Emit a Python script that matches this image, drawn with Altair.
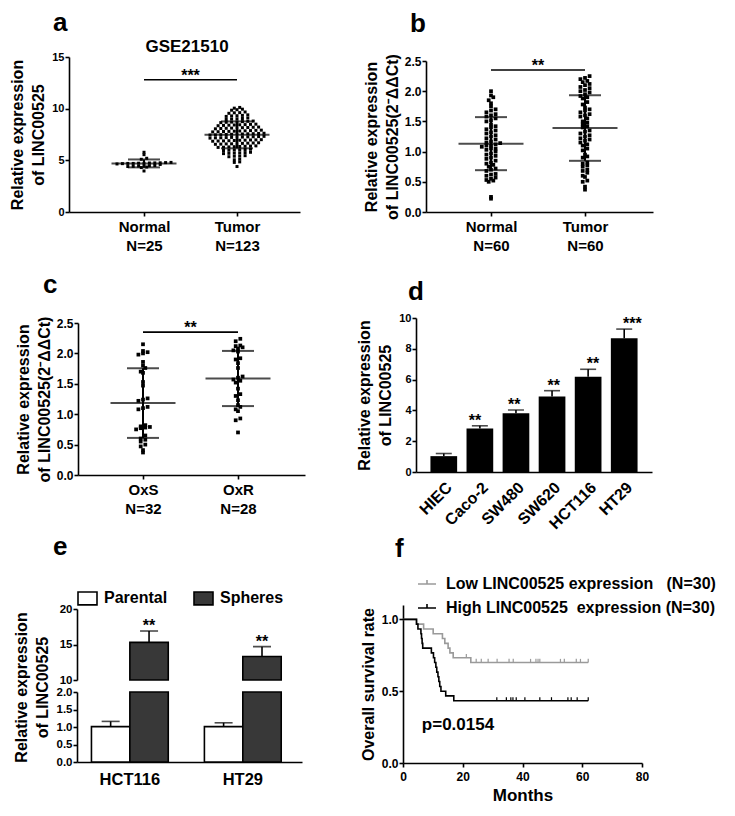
import altair as alt
import pandas as pd

FONT = "Liberation Sans"
M = 8            # page margin
W, H = 719, 800  # drawing area

# ---------------- data ----------------
a_normal = [3.97, 4.30, 4.35, 4.40, 4.42, 4.45, 4.45, 4.48, 4.50, 4.60, 4.65, 4.68, 4.70,
            4.70, 4.72, 4.72, 4.74, 4.75, 4.76, 4.78, 4.80, 5.10, 5.20, 5.55, 5.78]
a_tumor = [10.05, 10.12, 9.85, 9.90, 9.95, 9.55, 9.60, 9.62, 9.68,
           9.25, 9.30, 9.32, 9.35, 9.40, 8.95, 9.00, 9.02, 9.05, 9.10,
           8.65, 8.68, 8.70, 8.72, 8.75, 8.78, 8.80,
           8.35, 8.38, 8.40, 8.42, 8.44, 8.46, 8.48, 8.50,
           8.05, 8.08, 8.10, 8.12, 8.14, 8.16, 8.18, 8.20, 8.22,
           7.75, 7.77, 7.79, 7.80, 7.82, 7.84, 7.86, 7.88, 7.90, 7.92,
           7.45, 7.47, 7.48, 7.50, 7.52, 7.54, 7.55, 7.57, 7.58, 7.60, 7.62,
           7.15, 7.17, 7.18, 7.20, 7.22, 7.23, 7.25, 7.27, 7.28, 7.30, 7.32,
           6.85, 6.87, 6.88, 6.90, 6.92, 6.94, 6.95, 6.97, 6.98, 7.00,
           6.55, 6.57, 6.59, 6.60, 6.62, 6.64, 6.66, 6.68, 6.70,
           6.25, 6.27, 6.30, 6.32, 6.34, 6.36, 6.38, 6.40,
           5.95, 5.98, 6.00, 6.02, 6.05, 6.08,
           5.65, 5.68, 5.70, 5.72, 5.75, 5.78,
           5.35, 5.40, 5.42, 5.45, 5.05, 5.12, 4.80, 4.85, 4.40]
b_normal = [0.22, 0.25, 0.50, 0.52, 0.53, 0.55, 0.57, 0.60, 0.62, 0.63,
            0.68, 0.70, 0.72, 0.75, 0.78, 0.80, 0.82, 0.85, 0.88, 0.90,
            0.93, 0.95, 0.97, 1.00, 1.03, 1.05, 1.05, 1.08, 1.10, 1.10,
            1.12, 1.14, 1.15, 1.17, 1.20, 1.22, 1.25, 1.27, 1.30, 1.32,
            1.35, 1.37, 1.40, 1.42, 1.45, 1.50, 1.52, 1.55, 1.58, 1.60,
            1.62, 1.65, 1.68, 1.70, 1.75, 1.80, 1.85, 1.90, 1.93, 2.00]
b_tumor = [0.37, 0.42, 0.50, 0.52, 0.58, 0.60, 0.65, 0.68, 0.70, 0.75,
           0.77, 0.80, 0.82, 0.90, 0.92, 0.95, 1.02, 1.05, 1.10, 1.12,
           1.15, 1.18, 1.20, 1.22, 1.25, 1.27, 1.30, 1.33, 1.35, 1.40,
           1.42, 1.45, 1.48, 1.50, 1.55, 1.58, 1.60, 1.62, 1.65, 1.68,
           1.70, 1.73, 1.78, 1.82, 1.88, 1.90, 1.92, 1.95, 1.98, 2.00,
           2.02, 2.05, 2.07, 2.10, 2.12, 2.15, 2.17, 2.20, 2.22, 2.25]
c_oxs = [0.37, 0.41, 0.47, 0.50, 0.55, 0.58, 0.60, 0.65, 0.75, 0.77, 0.78, 0.79,
         0.80, 0.82, 1.08, 1.10, 1.12, 1.22, 1.24, 1.26, 1.47, 1.53, 1.68, 1.70,
         1.76, 1.80, 1.86, 1.98, 2.00, 2.02, 2.04, 2.15]
c_oxr = [0.70, 0.90, 0.93, 1.05, 1.08, 1.12, 1.15, 1.23, 1.30, 1.33, 1.42, 1.52,
         1.55, 1.57, 1.60, 1.62, 1.76, 1.84, 1.90, 1.92, 2.03, 2.05, 2.08, 2.10,
         2.12, 2.13, 2.20, 2.24]

d_lines = ["HIEC", "Caco-2", "SW480", "SW620", "HCT116", "HT29"]
d_mean = [1.03, 2.82, 3.81, 4.91, 6.19, 8.68]
d_err = [0.17, 0.18, 0.22, 0.37, 0.48, 0.60]
d_sig = ["", "**", "**", "**", "**", "***"]

e_lines = ["HCT116", "HT29"]
e_groups = ["Parental", "Spheres"]
e_parental = [1.01, 1.01]
e_parental_err = [0.15, 0.11]
e_spheres = [15.3, 13.3]
e_spheres_err = [1.6, 1.4]
e_sig = ["**", "**"]

f_groups = ["Low LINC00525 expression\u00a0\u00a0\u00a0(N=30)",
            "High LINC00525\u00a0\u00a0expression\u00a0(N=30)"]
f_low_t = [0, 4.6, 6.9, 10.1, 13.2, 14.0, 15.1, 15.7, 16.8, 22.7, 62]
f_low_s = [1.0, 0.967, 0.933, 0.9, 0.867, 0.833, 0.8, 0.767, 0.733, 0.7, 0.7]
f_low_cens = [21.2, 24.5, 26.2, 28.5, 31.5, 35.5, 36.9, 42.7, 44.5, 45.2, 45.8,
              52.7, 54.0, 58.0, 59.4, 62.0]
f_high_t = [0, 4.5, 5.0, 6.0, 6.2, 6.4, 6.6, 9.5, 10.2, 10.6, 11.0, 11.3, 11.7,
            12.0, 12.3, 12.7, 14.3, 17.0, 62]
f_high_s = [1.0, 0.967, 0.933, 0.9, 0.867, 0.833, 0.8, 0.767, 0.733, 0.7, 0.667,
            0.633, 0.6, 0.567, 0.533, 0.5, 0.467, 0.433, 0.433]
f_high_cens = [31.4, 34.6, 36.1, 36.8, 37.9, 40.8, 45.8, 49.7, 55.2, 56.3, 58.3, 62.0]
f_pvalue = "p=0.0154"


# ---------------- helpers ----------------
def lin(dom, p0, p1):
    return alt.Scale(domain=dom, range=[p0 - M, p1 - M], nice=False, zero=False)


def left_axis(xabs, **kw):
    return alt.Axis(orient="left", offset=-(xabs - M), **kw)


def bottom_axis(yabs, **kw):
    return alt.Axis(orient="bottom", offset=(yabs - M) - H, **kw)


def swarm(vals, g, yppu, xppu, bin_px, gap_px):
    binsize = bin_px / yppu
    bins = {}
    for v in sorted(vals):
        bins.setdefault(round(v / binsize), []).append(v)
    out = []
    for k in sorted(bins):
        vs = bins[k]
        n = len(vs)
        for i, v in enumerate(vs):
            out.append({"g": g, "v": v, "x": g + (i - (n - 1) / 2) * gap_px / xppu})
    return out


def txt(**kw):
    base = dict(font=FONT, fontWeight="bold", color="black")
    base.update(kw)
    return base


def scatter_panel(v1, v2, names, L, R, c1, c2, ybot, ytop, ymax, yvals, yfmt,
                  ylab, ytitle, tpad, sig_y, sig_txt, dot, bin_px, gap_px):
    unit = c2 - c1
    d0 = 1 - (c1 - L) / unit
    d1 = 2 + (R - c2) / unit
    X = alt.Scale(domain=[d0, d1], range=[L - M, R - M], nice=False, zero=False)
    Y = lin([0, ymax], ybot, ytop)
    yppu = (ybot - ytop) / ymax
    df = pd.DataFrame(swarm(v1, 1, yppu, unit, bin_px, gap_px) +
                      swarm(v2, 2, yppu, unit, bin_px, gap_px))
    lab = (f"datum.value == 1 ? ['{names[0]}', 'N={len(v1)}'] : "
           f"['{names[1]}', 'N={len(v2)}']")
    xaxis = bottom_axis(ybot, values=[1, 2], labelExpr=lab, labelFontSize=15,
                        labelLineHeight=19.5, labelPadding=3, title=None)
    yaxis = left_axis(L, values=yvals, format=yfmt, labelFontSize=ylab,
                      labelPadding=1, title=ytitle, titleFontSize=16,
                      titleLineHeight=21, titlePadding=tpad)
    pts = alt.Chart(df).mark_square(size=dot, color="black", opacity=1).encode(
        x=alt.X("x:Q", scale=X, axis=xaxis),
        y=alt.Y("v:Q", scale=Y, axis=yaxis))
    base = alt.Chart(df).transform_aggregate(
        m="mean(v)", s="stdev(v)", groupby=["g"]
    ).transform_calculate(lo="datum.m - datum.s", hi="datum.m + datum.s")
    gx = alt.X("g:Q", scale=X, axis=None)
    mean = base.mark_tick(orient="horizontal", size=65, thickness=2, color="black").encode(
        x=gx, y=alt.Y("m:Q", scale=Y, axis=None))
    lo = base.mark_tick(orient="horizontal", size=32, thickness=2, color="black").encode(
        x=gx, y=alt.Y("lo:Q", scale=Y, axis=None))
    hi = base.mark_tick(orient="horizontal", size=32, thickness=2, color="black").encode(
        x=gx, y=alt.Y("hi:Q", scale=Y, axis=None))
    vr = base.mark_rule(strokeWidth=2, color="black").encode(
        x=gx, y=alt.Y("lo:Q", scale=Y, axis=None), y2="hi:Q")
    sdf = pd.DataFrame({"x1": [1], "x2": [2], "xm": [1.5], "y": [sig_y], "t": [sig_txt]})
    sline = alt.Chart(sdf).mark_rule(strokeWidth=1.6, color="black").encode(
        x=alt.X("x1:Q", scale=X, axis=None), x2="x2:Q",
        y=alt.Y("y:Q", scale=Y, axis=None))
    stxt = alt.Chart(sdf).mark_text(**txt(fontSize=16, baseline="alphabetic", dy=1)).encode(
        x=alt.X("xm:Q", scale=X, axis=None), y=alt.Y("y:Q", scale=Y, axis=None), text="t:N")
    return [pts, vr, mean, lo, hi, sline, stxt]


layers = []

# ---------------- panel a ----------------
layers += scatter_panel(a_normal, a_tumor, ["Normal", "Tumor"], 69, 300, 144, 237,
                        212, 57, 15, [0, 5, 10, 15], "d", 11,
                        ["Relative expression", "of LINC00525"], 5, 12.8, "***",
                        9, 3.1, 5.4)
# ---------------- panel b ----------------
layers += scatter_panel(b_normal, b_tumor, ["Normal", "Tumor"], 426, 653, 491, 585,
                        212, 61, 2.5, [0, 0.5, 1, 1.5, 2, 2.5], ".1f", 12,
                        ["Relative expression", "of LINC00525(2\u207b\u0394\u0394Ct)"], 4,
                        2.35, "**", 14, 4.2, 4.6)
# ---------------- panel c ----------------
layers += scatter_panel(c_oxs, c_oxr, ["OxS", "OxR"], 78, 305, 143, 238,
                        475, 323, 2.5, [0, 0.5, 1, 1.5, 2, 2.5], ".1f", 12,
                        ["Relative expression", "of LINC00525(2\u207b\u0394\u0394Ct)"], 4,
                        2.35, "**", 14, 4.2, 4.6)

# ---------------- panel d ----------------
df_d = pd.DataFrame({"name": d_lines, "m": d_mean, "e": d_err, "sig": d_sig})
Xd = alt.Scale(domain=d_lines, range=[416 - M, 652 - M], paddingInner=0.26, paddingOuter=0.4)
Yd = lin([0, 10], 472, 318)
dbase = alt.Chart(df_d).transform_calculate(top="datum.m + datum.e")
layers.append(alt.Chart(df_d).mark_bar(color="black").encode(
    x=alt.X("name:N", scale=Xd, sort=None,
            axis=bottom_axis(472, labelAngle=-45, labelFontSize=16, ticks=False,
                             tickSize=0, labelPadding=7, title=None)),
    y=alt.Y("m:Q", scale=Yd,
            axis=left_axis(416, values=[0, 2, 4, 6, 8, 10], format="d", labelFontSize=11,
                           labelPadding=1, title=["Relative expression", "of LINC00525"],
                           titleFontSize=16, titleLineHeight=21, titlePadding=5))))
layers.append(dbase.mark_rule(strokeWidth=1.6, color="black").encode(
    x=alt.X("name:N", scale=Xd, sort=None, axis=None),
    y=alt.Y("m:Q", scale=Yd, axis=None), y2="top:Q"))
layers.append(dbase.mark_tick(orient="horizontal", size=16, thickness=1.6, color="black").encode(
    x=alt.X("name:N", scale=Xd, sort=None, axis=None),
    y=alt.Y("top:Q", scale=Yd, axis=None)))
layers.append(dbase.mark_text(**txt(fontSize=16, baseline="alphabetic", dy=0)).encode(
    x=alt.X("name:N", scale=Xd, sort=None, axis=None),
    y=alt.Y("top:Q", scale=Yd, axis=None), text="sig:N"))

# ---------------- panel e ----------------
rows_e = []
for i, ln in enumerate(e_lines):
    rows_e.append({"line": ln, "group": "Parental", "v": e_parental[i],
                   "e": e_parental_err[i], "sig": ""})
    rows_e.append({"line": ln, "group": "Spheres", "v": e_spheres[i],
                   "e": e_spheres_err[i], "sig": e_sig[i]})
df_e = pd.DataFrame(rows_e)
E_PI, E_PO = 0.32, 0.156
Xe = alt.Scale(domain=e_lines, range=[77 - M, 302 - M], paddingInner=E_PI,
               paddingOuter=E_PO, align=0.41)
XO = alt.Scale(domain=e_groups, paddingInner=0, paddingOuter=0)
E_STEP = (302 - 77) / (len(e_lines) - E_PI + 2 * E_PO)
E_BW = E_STEP * (1 - E_PI)
Ylow = lin([0, 2], 762, 692)
Yup = lin([10, 20], 680, 609)
ex = alt.X("line:N", scale=Xe, sort=None, axis=None)
exo = alt.XOffset("group:N", scale=XO, sort=None)
ebase = alt.Chart(df_e).transform_calculate(top="datum.v + datum.e",
                                            vlow="min(datum.v, 2)")
layers.append(ebase.mark_bar(stroke="black", strokeWidth=1.6).encode(
    x=alt.X("line:N", scale=Xe, sort=None,
            axis=bottom_axis(762, ticks=False, tickSize=0, labelPadding=9,
                             labelFontSize=16.5, labelAngle=0, title=None)),
    xOffset=exo,
    y=alt.Y("vlow:Q", scale=Ylow,
            axis=left_axis(77, values=[0, 0.5, 1, 1.5, 2], format=".1f", labelFontSize=11.5,
                           labelPadding=1, title=["Relative expression", "of LINC00525"],
                           titleFontSize=16, titleLineHeight=21, titlePadding=6,
                           titleY=687 - M)),
    fill=alt.Fill("group:N", scale=alt.Scale(domain=e_groups, range=["white", "#383838"]),
                  legend=alt.Legend(orient="none", legendX=77 - M, legendY=587.5 - M,
                                    direction="horizontal", title=None,
                                    symbolType="M-1,-0.68H1V0.68H-1Z", symbolSize=361,
                                    symbolStrokeColor="black", symbolStrokeWidth=1.6,
                                    labelFont=FONT, labelFontWeight="bold",
                                    labelFontSize=16, labelColor="black", labelOffset=6,
                                    columnPadding=22, padding=0, labelLimit=300))))
layers.append(ebase.transform_filter("datum.group == 'Spheres'").mark_bar(
    fill="#383838", stroke="black", strokeWidth=1.6).encode(
    x=ex, xOffset=exo,
    y=alt.Y("v:Q", scale=Yup,
            axis=left_axis(77, values=[10, 15, 20], format="d", labelFontSize=11.5,
                           labelPadding=1, title=None)),
    y2=alt.datum(10)))
for grp, Ys in (("Parental", Ylow), ("Spheres", Yup)):
    eb = ebase.transform_filter(f"datum.group == '{grp}'")
    layers.append(eb.mark_rule(strokeWidth=1.6, color="black").encode(
        x=ex, xOffset=exo, y=alt.Y("v:Q", scale=Ys, axis=None), y2="top:Q"))
    layers.append(eb.mark_tick(orient="horizontal", size=18, thickness=1.6, color="black").encode(
        x=ex, xOffset=exo, y=alt.Y("top:Q", scale=Ys, axis=None)))
    layers.append(eb.mark_text(**txt(fontSize=16, baseline="alphabetic", dy=0,
                                     dx=-(E_BW / 2 - E_BW / 4))).encode(
        x=ex, xOffset=exo, y=alt.Y("top:Q", scale=Ys, axis=None), text="sig:N"))

# ---------------- panel f ----------------
Xf = lin([0, 80], 403, 642)
Yf = lin([0, 1.1], 763, 605)


def surv_at(t, ts, ss):
    s = ss[0]
    for tt, sv in zip(ts, ss):
        if tt <= t:
            s = sv
    return s


km = ([{"t": t, "s": s, "grp": f_groups[0]} for t, s in zip(f_low_t, f_low_s)] +
      [{"t": t, "s": s, "grp": f_groups[1]} for t, s in zip(f_high_t, f_high_s)])
cens = ([{"t": t, "s": surv_at(t, f_low_t, f_low_s), "grp": f_groups[0]} for t in f_low_cens] +
        [{"t": t, "s": surv_at(t, f_high_t, f_high_s), "grp": f_groups[1]} for t in f_high_cens])
fcol = alt.Scale(domain=f_groups, range=["#9a9a9a", "black"])
layers.append(alt.Chart(pd.DataFrame(km)).mark_line(interpolate="step-after", strokeWidth=1.6).encode(
    x=alt.X("t:Q", scale=Xf,
            axis=bottom_axis(763, values=[0, 20, 40, 60, 80], format="d", labelFontSize=12,
                             labelPadding=4, title="Months", titleFontSize=17, titlePadding=5)),
    y=alt.Y("s:Q", scale=Yf,
            axis=left_axis(403, values=[0, 0.5, 1], format=".1f", labelFontSize=12,
                           labelPadding=1, title="Overall survival rate", titleFontSize=16,
                           titlePadding=5)),
    color=alt.Color("grp:N", scale=fcol,
                    legend=alt.Legend(orient="none", legendX=417 - M, legendY=574 - M,
                                      title=None, symbolType="M-1,0H1M0,0V-0.45",
                                      symbolSize=324, symbolStrokeWidth=1.6,
                                      labelFont=FONT, labelFontWeight="bold",
                                      labelFontSize=16, labelColor="black", labelOffset=9,
                                      rowPadding=6, padding=0, labelLimit=400)),
    detail="grp:N"))
layers.append(alt.Chart(pd.DataFrame(cens)).transform_calculate(s2="datum.s + 0.025").mark_rule(
    strokeWidth=1.2).encode(
    x=alt.X("t:Q", scale=Xf, axis=None),
    y=alt.Y("s:Q", scale=Yf, axis=None), y2="s2:Q",
    color=alt.Color("grp:N", scale=fcol, legend=None)))
layers.append(alt.Chart(pd.DataFrame({"x": [6.3], "y": [0.265], "t": [f_pvalue]})).mark_text(
    **txt(fontSize=17, align="left", baseline="middle")).encode(
    x=alt.X("x:Q", scale=Xf, axis=None), y=alt.Y("y:Q", scale=Yf, axis=None), text="t:N"))

# ---------------- panel letters and title ----------------
for letter, lx, ly in (("a", 53, 31), ("b", 410, 31.5), ("c", 43, 293),
                       ("d", 408, 300), ("e", 53, 555), ("f", 395, 557)):
    layers.append(alt.Chart(pd.DataFrame({"t": [letter]})).mark_text(
        **txt(fontSize=26, align="left", baseline="alphabetic")).encode(
        text="t:N", x=alt.value(lx - M), y=alt.value(ly - M)))
layers.append(alt.Chart(pd.DataFrame({"t": ["GSE21510"]})).mark_text(
    **txt(fontSize=17, align="center", baseline="alphabetic")).encode(
    text="t:N", x=alt.value(187 - M), y=alt.value(52 - M)))

chart = alt.layer(*layers).resolve_scale(
    x="independent", y="independent", xOffset="independent",
    color="independent", fill="independent"
).properties(
    width=W, height=H, padding=0, autosize="none", background="white"
).configure_view(stroke=None).configure_axis(
    domainColor="black", domainWidth=1.6, tickColor="black", tickWidth=1.6, tickSize=4,
    labelFont=FONT, labelFontWeight="bold", labelColor="black",
    titleFont=FONT, titleFontWeight="bold", titleColor="black",
    grid=False, labelFlush=False
)

chart.save("out.html", embed_options={"renderer": "svg", "actions": False})
